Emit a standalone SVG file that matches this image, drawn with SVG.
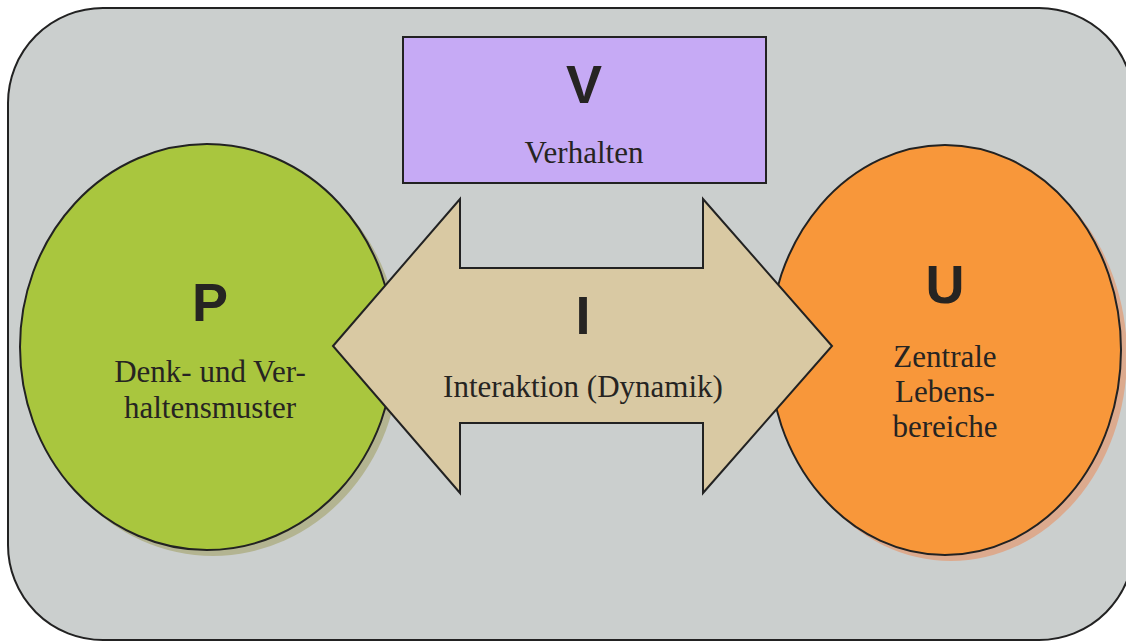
<svg xmlns="http://www.w3.org/2000/svg" width="1126" height="642" viewBox="0 0 1126 642">
<style>
.bg{fill:#cbcfce;stroke:#222;stroke-width:2}
.sh-g{fill:#b3b491}
.sh-o{fill:#dcaa8e}
.out{stroke:#222;stroke-width:2}
.big{font-family:"Liberation Sans",Arial,sans-serif;font-weight:bold;font-size:54px;fill:#262422;text-anchor:middle}
.lbl{font-family:"Liberation Serif","Times New Roman",serif;font-size:31px;fill:#262422;text-anchor:middle}
</style>
<rect class="bg" x="8" y="8" width="1126" height="632" rx="95" ry="95"/>
<g id="P">
<ellipse class="sh-g" cx="213" cy="353" rx="187" ry="203"/>
<ellipse class="out" cx="207" cy="347" rx="187" ry="203" fill="#a9c63e"/>
<text class="big" x="210" y="321">P</text>
<text class="lbl" x="210" y="382">Denk- und Ver-</text>
<text class="lbl" x="210" y="418">haltensmuster</text>
</g>
<g id="U">
<ellipse class="sh-o" cx="951" cy="356" rx="176" ry="205"/>
<ellipse class="out" cx="945" cy="350" rx="176" ry="205" fill="#f8973a"/>
<text class="big" x="945" y="303">U</text>
<text class="lbl" x="945" y="367">Zentrale</text>
<text class="lbl" x="945" y="402">Lebens-</text>
<text class="lbl" x="945" y="437">bereiche</text>
</g>
<g id="connectors">
<g id="I">
<polygon class="out" fill="#d9c9a3" stroke-linejoin="miter" points="333,346 460,199 460,268 703,268 703,199 832,346 703,493 703,423 460,423 460,493"/>
<text class="big" x="583" y="334">I</text>
<text class="lbl" x="583" y="397">Interaktion (Dynamik)</text>
</g>
</g>
<g id="V">
<rect class="out" x="403" y="37" width="363" height="146" fill="#c6aaf5"/>
<text class="big" x="584" y="103">V</text>
<text class="lbl" x="584" y="163">Verhalten</text>
</g>
</svg>
